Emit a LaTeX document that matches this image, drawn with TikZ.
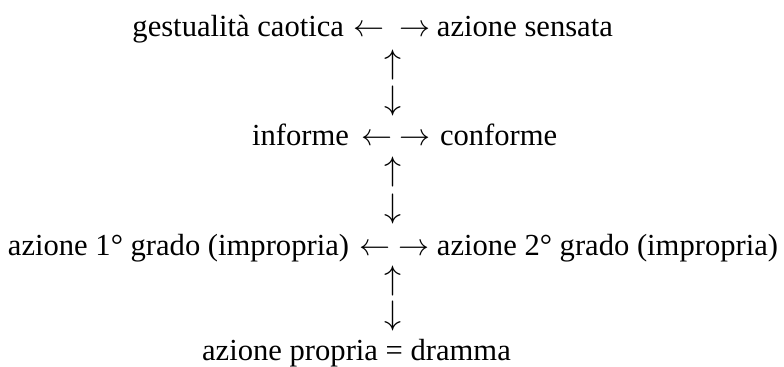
\RequirePackage{fix-cm}
\documentclass[tikz,border=0pt]{standalone}
\usepackage{fontspec}
\setmainfont{Liberation Serif}
\begin{document}
\begin{tikzpicture}[x=0.5pt,y=-0.5pt,
  txt/.style={font=\fontsize{15.3}{18}\selectfont, inner sep=0pt, outer sep=0pt},
  glyph/.style={font=\fontsize{15.5}{18}\selectfont, inner sep=0pt, outer sep=0pt},
  vglyph/.style={font=\fontsize{17}{20}\selectfont, inner sep=0pt, outer sep=0pt}]
\useasboundingbox (0,0) rectangle (784,367);
% line 1
\node[txt,anchor=base east] (gc) at (344,37) {gestualità caotica};
\node[glyph,anchor=base] (l1) at (368.5,37) {$\leftarrow$};
\node[glyph,anchor=base] (r1) at (415.5,37) {$\rightarrow$};
\node[txt,anchor=base west] (as) at (437,37) {azione sensata};
\node[vglyph] (u1) at (393,65) {$\uparrow$};
\node[vglyph] (d1) at (393,101) {$\downarrow$};
% line 2
\node[txt,anchor=base east] (inf) at (349,146) {informe};
\node[glyph,anchor=base] (l2) at (376.5,146) {$\leftarrow$};
\node[glyph,anchor=base] (r2) at (414.5,146) {$\rightarrow$};
\node[txt,anchor=base west] (conf) at (440,146) {conforme};
\node[vglyph] (u2) at (393,172.5) {$\uparrow$};
\node[vglyph] (d2) at (393,209) {$\downarrow$};
% line 3
\node[txt,anchor=base east] (a1) at (349,256) {azione 1° grado (impropria)};
\node[glyph,anchor=base] (l3) at (375,256) {$\leftarrow$};
\node[glyph,anchor=base] (r3) at (414,256) {$\rightarrow$};
\node[txt,anchor=base west] (a2) at (437,256) {azione 2° grado (impropria)};
\node[vglyph] (u3) at (393,281) {$\uparrow$};
\node[vglyph] (d3) at (393,316) {$\downarrow$};
% line 4
\node[txt,anchor=base] (ap) at (356.5,361) {azione propria = dramma};
\end{tikzpicture}
\end{document}
